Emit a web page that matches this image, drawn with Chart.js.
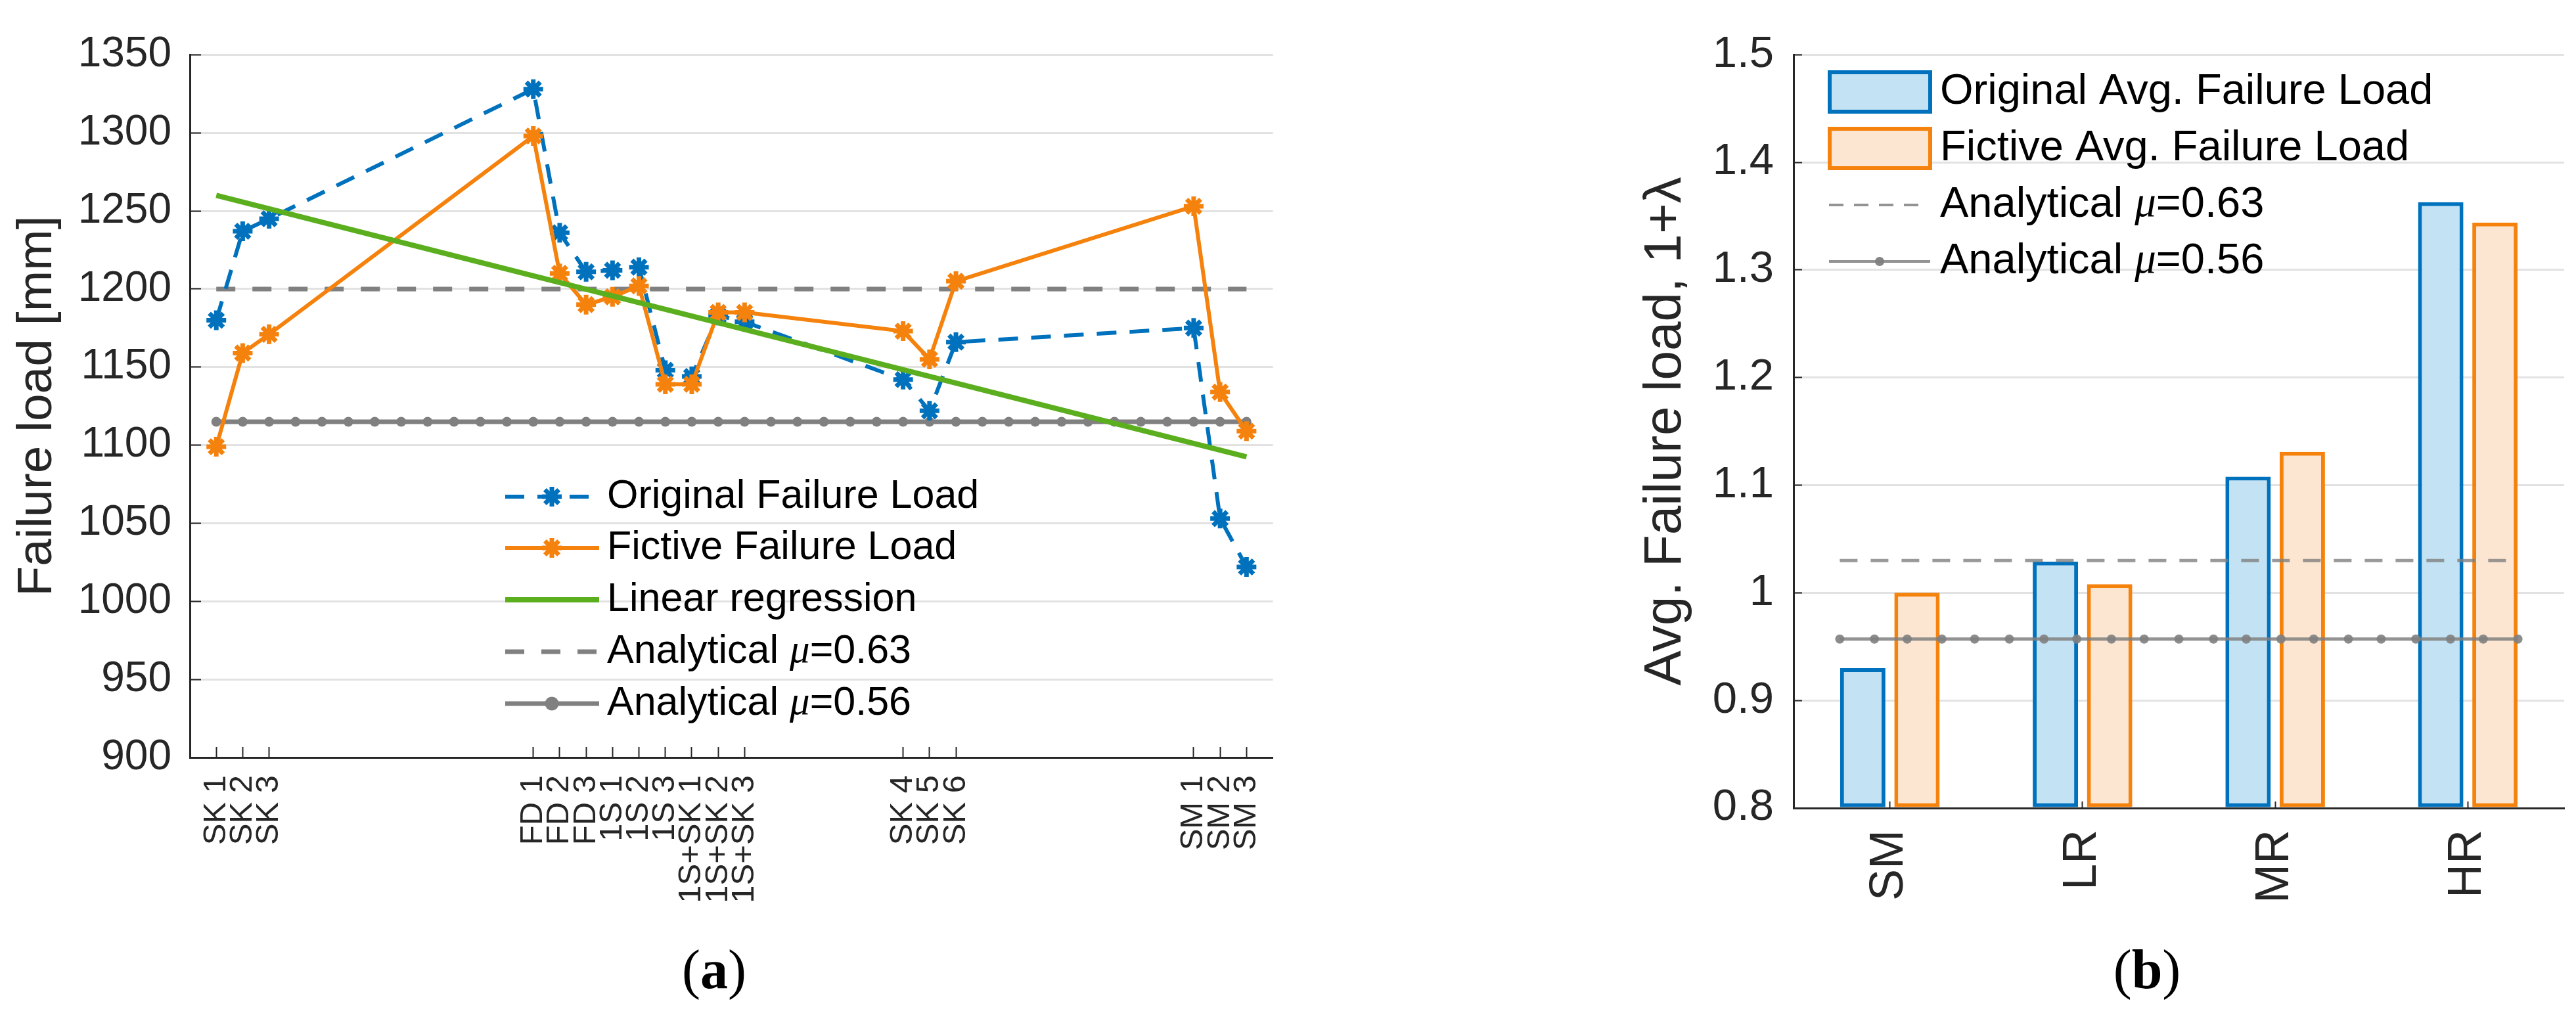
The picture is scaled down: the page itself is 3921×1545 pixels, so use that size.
<!DOCTYPE html>
<html><head><meta charset="utf-8">
<script src="https://cdn.jsdelivr.net/npm/chart.js@4.4.1/dist/chart.umd.min.js"></script>
<style>
html,body{margin:0;padding:0;background:#fff;width:3921px;height:1545px;overflow:hidden;position:relative;}
#c1{position:absolute;left:0;top:0;}
#c2{position:absolute;left:2400px;top:0;}
.cap{position:absolute;top:1434px;font-family:'Liberation Serif','Times New Roman',serif;font-size:84px;line-height:1;color:#000;transform:translateX(-50%);white-space:nowrap;}
</style></head><body>
<canvas id="c1" width="2000" height="1400"></canvas>
<canvas id="c2" width="1521" height="1400"></canvas>
<div class="cap" style="left:1087px">(<b>a</b>)</div>
<div class="cap" style="left:3268px">(<b>b</b>)</div>
<script>
// ---------- data (a) ----------
const xTickPos = [1,2,3,13,14,15,16,17,18,19,20,21,27,28,29,38,39,40];
const xTickLabels = ['SK 1','SK 2','SK 3','FD 1','FD 2','FD 3','1S 1','1S 2','1S 3','1S+SK 1','1S+SK 2','1S+SK 3','SK 4','SK 5','SK 6','SM 1','SM 2','SM 3'];
const originalLoad = [1180,1237,1245,1328,1236,1211,1212,1214,1148,1144,1183,1179,1142,1122,1166,1175,1053,1022];
const fictiveLoad  = [1099,1159,1171,1298,1210,1190,1195,1202,1139,1139,1185,1185,1173,1155,1205,1253,1134,1109];
const regressionX = [1, 40];
const regressionY = [1260, 1092.5];
const analyticalX = [1,2,3,4,5,6,7,8,9,10,11,12,13,14,15,16,17,18,19,20,21,22,23,24,25,26,27,28,29,30,31,32,33,34,35,36,37,38,39,40];
const analyticalDashX = [1, 40];
const loadMu063 = 1200;
const loadMu056 = 1115;
const yTicksA = {min: 900, max: 1350, step: 50};

// ---------- data (b) ----------
const groups = ['SM','LR','MR','HR'];
const origAvg = [0.930, 1.029, 1.108, 1.363];
const fictAvg = [1.000, 1.008, 1.131, 1.344];
const avgMu063 = 1.03;
const avgMu056 = 0.957;
const avgLineX = [-0.26,-0.08,0.09,0.27,0.44,0.62,0.80,0.97,1.15,1.32,1.50,1.68,1.85,2.03,2.20,2.38,2.55,2.73,2.91,3.08,3.26];
const avgDashX = [-0.26, 3.26];
const yTicksB = {min: 0.8, max: 1.5, step: 0.1};

// ---------- styles ----------
const FAM = "'Liberation Sans', Arial, Helvetica, sans-serif";
const BLUE = '#0072BD', ORANGE = '#F5820D', GREEN = '#5BAF1E', GRAY = '#808080';
const AX = '#262626', GRID = '#e2e2e2';
Chart.defaults.font.family = FAM;
Chart.defaults.color = AX;

function richText(ctx, parts, x, y) {
  parts.forEach(p => { ctx.font = p.f; ctx.fillText(p.t, x, y); x += ctx.measureText(p.t).width; });
}
function muParts(size, val) {
  const n = size + 'px ' + FAM;
  return [{t:'Analytical ', f:n}, {t:'\u03BC', f:'italic ' + size + "px 'Liberation Serif', serif"}, {t:'=' + val, f:n}];
}

// legend for (a)
const legendA = {
  id: 'legendA',
  afterDraw(chart) {
    const ctx = chart.ctx;
    const x0 = 769, x1 = 912, xm = 840, tx = 924;
    const rows = [756, 834, 913, 992, 1071];
    const fs = 61;
    const items = [
      {c: BLUE, w: 6, dash: [29, 20], mk: 'star', text: [{t:'Original Failure Load', f: fs+'px '+FAM}]},
      {c: ORANGE, w: 6, dash: [], mk: 'star', text: [{t:'Fictive Failure Load', f: fs+'px '+FAM}]},
      {c: GREEN, w: 8, dash: [], mk: null, text: [{t:'Linear regression', f: fs+'px '+FAM}]},
      {c: GRAY, w: 7, dash: [29, 26], mk: null, text: muParts(fs, '0.63')},
      {c: GRAY, w: 7, dash: [], mk: 'circle', text: muParts(fs, '0.56')}
    ];
    ctx.save();
    items.forEach((it, i) => {
      const y = rows[i];
      ctx.strokeStyle = it.c; ctx.lineWidth = it.w; ctx.setLineDash(it.dash);
      ctx.beginPath(); ctx.moveTo(x0, y); ctx.lineTo(x1, y); ctx.stroke();
      ctx.setLineDash([]);
      if (it.mk) {
        ctx.fillStyle = it.c; ctx.strokeStyle = it.c;
        ctx.lineWidth = it.mk === 'star' ? 7 : 0;
        Chart.helpers.drawPoint(ctx, {pointStyle: it.mk, radius: it.mk === 'star' ? 15 : 7, rotation: 0, borderWidth: ctx.lineWidth}, xm, y);
      }
      ctx.fillStyle = '#000'; ctx.textBaseline = 'middle'; ctx.textAlign = 'left';
      richText(ctx, it.text, tx, y);
    });
    ctx.restore();
  }
};

// legend for (b)
const legendB = {
  id: 'legendB',
  afterDraw(chart) {
    const ctx = chart.ctx;
    const bx0 = 382, bx1 = 541, tx = 553, bh = 66;
    const rows = [140, 226, 312, 398];
    const fs = 65;
    ctx.save();
    ctx.textBaseline = 'middle'; ctx.textAlign = 'left';
    [[BLUE, '#C3E3F4', 'Original Avg. Failure Load'], [ORANGE, '#FDE6D1', 'Fictive Avg. Failure Load']].forEach((b, i) => {
      const y = rows[i];
      ctx.fillStyle = b[1]; ctx.fillRect(bx0, y - bh/2, bx1 - bx0, bh);
      ctx.strokeStyle = b[0]; ctx.lineWidth = 6;
      ctx.strokeRect(bx0 + 3, y - bh/2 + 3, bx1 - bx0 - 6, bh - 6);
      ctx.fillStyle = '#000';
      richText(ctx, [{t: b[2], f: fs+'px '+FAM}], tx, y);
    });
    let y = rows[2];
    ctx.strokeStyle = 'rgba(128,128,128,0.85)'; ctx.lineWidth = 4; ctx.setLineDash([22, 16]);
    ctx.beginPath(); ctx.moveTo(384, y); ctx.lineTo(530, y); ctx.stroke();
    ctx.setLineDash([]);
    ctx.fillStyle = '#000'; richText(ctx, muParts(fs, '0.63'), tx, y);
    y = rows[3];
    ctx.beginPath(); ctx.moveTo(384, y); ctx.lineTo(538, y); ctx.stroke();
    ctx.fillStyle = 'rgba(128,128,128,0.95)';
    ctx.beginPath(); ctx.arc(461, y, 7, 0, Math.PI*2); ctx.fill();
    ctx.fillStyle = '#000'; richText(ctx, muParts(fs, '0.56'), tx, y);
    ctx.restore();
  }
};

const pts = (xs, ys) => xs.map((x, i) => ({x, y: Array.isArray(ys) ? ys[i] : ys}));

new Chart(document.getElementById('c1'), {
  type: 'line',
  data: { datasets: [
    {label: 'Linear regression', data: pts(regressionX, regressionY), borderColor: GREEN, borderWidth: 8, pointRadius: 0},
    {label: 'Fictive Failure Load', data: pts(xTickPos, fictiveLoad), borderColor: ORANGE, borderWidth: 6,
     pointStyle: 'star', pointRadius: 15, pointBorderWidth: 7, pointBorderColor: ORANGE, pointBackgroundColor: ORANGE},
    {label: 'Original Failure Load', data: pts(xTickPos, originalLoad), borderColor: BLUE, borderWidth: 6, borderDash: [30, 20],
     pointStyle: 'star', pointRadius: 15, pointBorderWidth: 7, pointBorderColor: BLUE, pointBackgroundColor: BLUE},
    {label: 'Analytical \u03BC=0.63', data: pts(analyticalDashX, loadMu063), borderColor: GRAY, borderWidth: 7, borderDash: [29, 26], pointRadius: 0},
    {label: 'Analytical \u03BC=0.56', data: pts(analyticalX, loadMu056), borderColor: GRAY, borderWidth: 7,
     pointRadius: 7.5, pointBorderWidth: 0, pointBackgroundColor: GRAY}
  ]},
  options: {
    responsive: false, devicePixelRatio: 1, animation: false,
    layout: {padding: {left: 0, top: 49, right: 35, bottom: 0}},
    plugins: {legend: {display: false}, tooltip: {enabled: false}},
    scales: {
      x: {type: 'linear', min: 0, max: 41,
        afterBuildTicks: s => { s.ticks = xTickPos.map(v => ({value: v})); },
        ticks: {callback: (v, i) => xTickLabels[i], autoSkip: false, maxRotation: 90, minRotation: 90, padding: 43,
                font: {size: 49}, color: AX},
        grid: {drawOnChartArea: false, tickLength: -16, tickColor: AX, tickWidth: 2},
        border: {color: AX, width: 3},
        afterFit: s => { s.height = 247; }},
      y: {min: yTicksA.min, max: yTicksA.max,
        ticks: {stepSize: yTicksA.step, padding: 45, font: {size: 64}, color: AX, callback: v => String(v)},
        grid: {color: GRID, lineWidth: 3, tickLength: -17, tickColor: AX, tickWidth: 2},
        border: {color: AX, width: 3},
        title: {display: true, text: 'Failure load [mm]', font: {size: 75}, color: AX, padding: {top: 12, bottom: 0}},
        afterFit: s => { s.width = 289; }}
    }
  },
  plugins: [legendA]
});

new Chart(document.getElementById('c2'), {
  type: 'bar',
  data: { labels: groups, datasets: [
    {type: 'line', label: 'Analytical \u03BC=0.63', xAxisID: 'xl', data: pts(avgDashX, avgMu063),
     borderColor: 'rgba(128,128,128,0.8)', borderWidth: 5, borderDash: [27, 20], pointRadius: 0},
    {type: 'line', label: 'Analytical \u03BC=0.56', xAxisID: 'xl', data: pts(avgLineX, avgMu056),
     borderColor: 'rgba(128,128,128,0.85)', borderWidth: 5, pointRadius: 7, pointBorderWidth: 0, pointBackgroundColor: 'rgba(128,128,128,0.9)'},
    {label: 'Original Avg. Failure Load', data: origAvg, base: yTicksB.min, backgroundColor: '#C3E3F4', borderColor: BLUE,
     borderWidth: 6, borderSkipped: false, categoryPercentage: 1.126, barPercentage: 0.836},
    {label: 'Fictive Avg. Failure Load', data: fictAvg, base: yTicksB.min, backgroundColor: '#FDE6D1', borderColor: ORANGE,
     borderWidth: 6, borderSkipped: false, categoryPercentage: 1.126, barPercentage: 0.836}
  ]},
  options: {
    responsive: false, devicePixelRatio: 1, animation: false,
    layout: {padding: {left: 0, top: 48, right: 18, bottom: 0}},
    plugins: {legend: {display: false}, tooltip: {enabled: false}},
    scales: {
      x: {type: 'category', offset: true,
        ticks: {autoSkip: false, maxRotation: 90, minRotation: 90, padding: 43, font: {size: 72}, color: AX},
        grid: {drawOnChartArea: false, offset: false, tickLength: -10, tickColor: AX, tickWidth: 2},
        border: {color: AX, width: 3},
        afterFit: s => { s.height = 170; }},
      xl: {type: 'linear', display: false, offset: false, grid: {offset: false}, min: -0.5, max: 3.5},
      y: {min: yTicksB.min, max: yTicksB.max,
        ticks: {stepSize: yTicksB.step, padding: 43, font: {size: 67}, color: AX,
                callback: v => String(Math.round(v * 10) / 10)},
        grid: {color: GRID, lineWidth: 3, tickLength: -13, tickColor: AX, tickWidth: 2},
        border: {color: AX, width: 3},
        title: {display: true, text: 'Avg. Failure load, 1+\u03BB', font: {size: 80}, color: AX, padding: {top: 88, bottom: 0}},
        afterFit: s => { s.width = 330; }}
    }
  },
  plugins: [legendB]
});
</script>
</body></html>
